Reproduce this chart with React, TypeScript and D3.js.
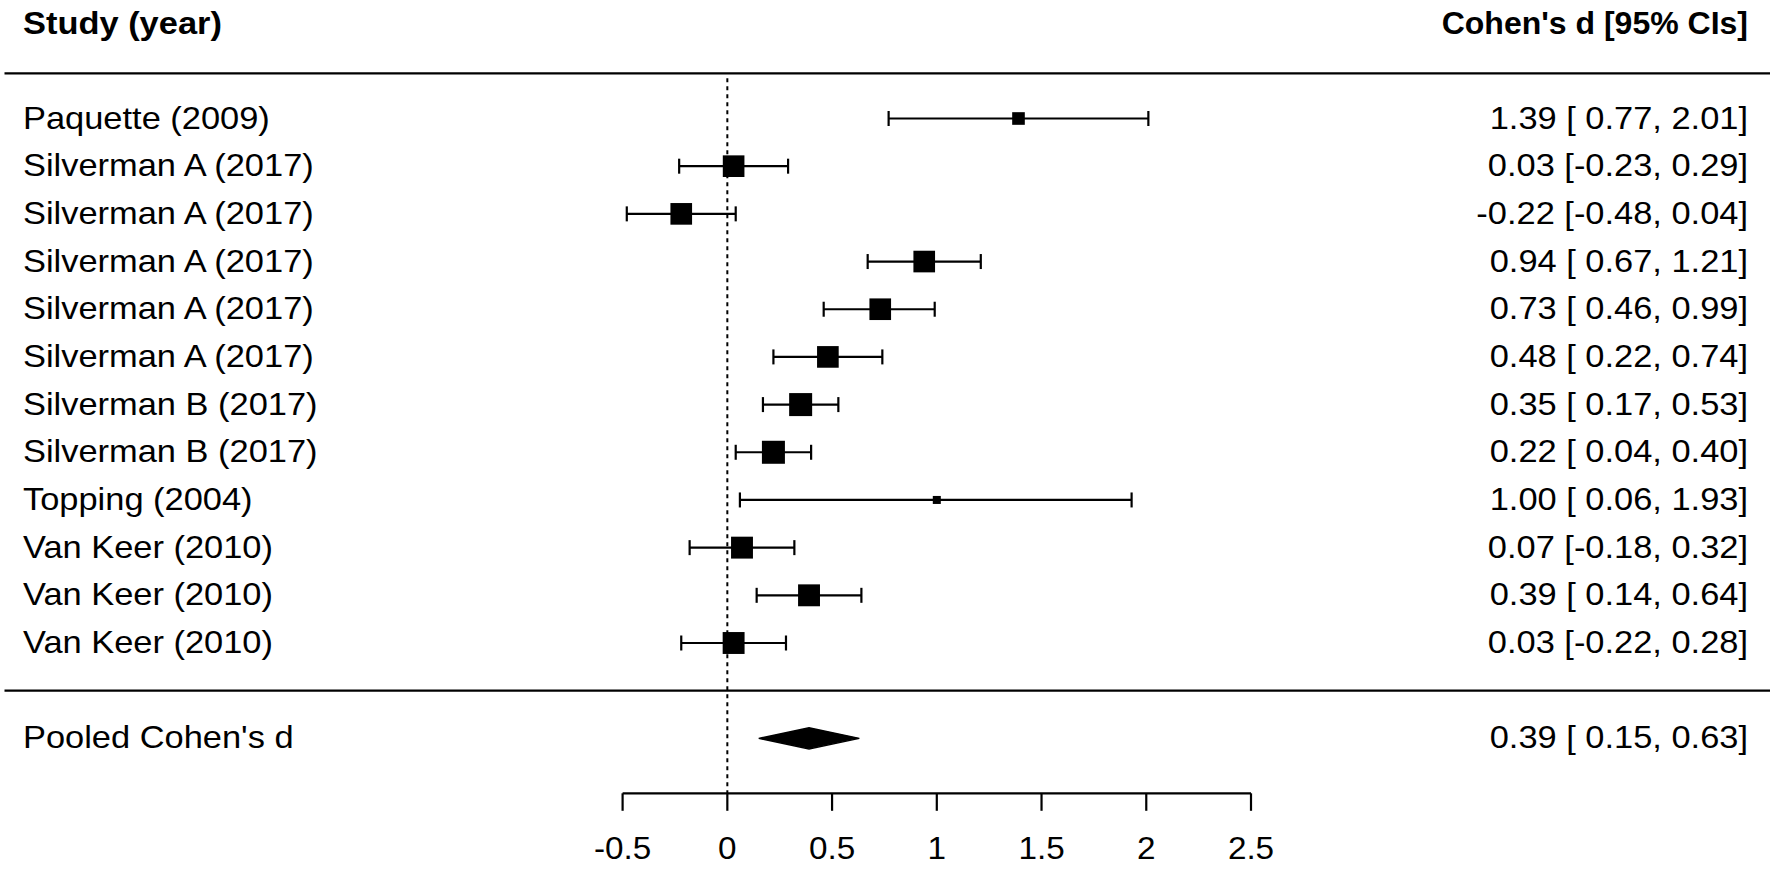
import React from "react";
import * as d3 from "d3";

const studies = [
  "Paquette (2009)",
  "Silverman A (2017)",
  "Silverman A (2017)",
  "Silverman A (2017)",
  "Silverman A (2017)",
  "Silverman A (2017)",
  "Silverman B (2017)",
  "Silverman B (2017)",
  "Topping (2004)",
  "Van Keer (2010)",
  "Van Keer (2010)",
  "Van Keer (2010)",
];
const estimates = [1.39, 0.03, -0.22, 0.94, 0.73, 0.48, 0.35, 0.22, 1.0, 0.07, 0.39, 0.03];
const lowerCI = [0.77, -0.23, -0.48, 0.67, 0.46, 0.22, 0.17, 0.04, 0.06, -0.18, 0.14, -0.22];
const upperCI = [2.01, 0.29, 0.04, 1.21, 0.99, 0.74, 0.53, 0.4, 1.93, 0.32, 0.64, 0.28];
const weights = [5.6, 8.9, 8.9, 8.9, 8.9, 8.9, 9.4, 9.4, 3.9, 9.0, 9.0, 9.0];

const pooledLabel = "Pooled Cohen's d";
const pooledEstimate = [0.39];
const pooledLower = [0.15];
const pooledUpper = [0.63];

const tickValues = [-0.5, 0, 0.5, 1, 1.5, 2, 2.5];
const tickLabels = ["-0.5", "0", "0.5", "1", "1.5", "2", "2.5"];

const headerLeft = "Study (year)";
const headerRight = "Cohen's d [95% CIs]";

const W = 1770;
const H = 872;
const FONT = "'Liberation Sans', Arial, sans-serif";
const FS = 32;
const SX = 1.076;

const f2 = (v: number) => v.toFixed(2);
const fmtLead = (v: number) => (v < 0 ? f2(v) : " " + f2(v));
const annot = (e: number, l: number, u: number) => `${f2(e)} [${fmtLead(l)}, ${f2(u)}]`;

function T({
  x,
  y,
  anchor = "start",
  bold = false,
  sx = SX,
  children,
}: {
  x: number;
  y: number;
  anchor?: string;
  bold?: boolean;
  sx?: number;
  children: React.ReactNode;
}) {
  return (
    <text
      transform={`translate(${x},${y}) scale(${sx},1)`}
      fontSize={FS}
      fontWeight={bold ? "bold" : "normal"}
      fill="#000"
      textAnchor={anchor as any}
      style={{ whiteSpace: "pre" }}
    >
      {children}
    </text>
  );
}

export default function App() {
  const x = d3.scaleLinear().domain([-0.5, 2.5]).range([622.6, 1251]);
  const y = d3.scaleLinear().domain([0, 11]).range([118.5, 643]);
  const size = d3.scaleLinear().domain([d3.min(weights)!, d3.max(weights)!]).range([8, 23]);

  const topLineY = y(-1) + 2.5;
  const sepY = y(12);
  const pooledY = y(13);
  const axisY = 793.3;
  const capH = 7.5;
  const diamondH = 10.5;
  const textDy = 10;
  const lw = 2.2;

  const pe = pooledEstimate[0];
  const pl = pooledLower[0];
  const pu = pooledUpper[0];
  const diamond = [
    [x(pl), pooledY],
    [x(pe), pooledY - diamondH],
    [x(pu), pooledY],
    [x(pe), pooledY + diamondH],
  ];

  return (
    <svg
      width={W}
      height={H}
      viewBox={`0 0 ${W} ${H}`}
      style={{ position: "absolute", left: 0, top: 0, background: "#fff" }}
      fontFamily={FONT}
    >
      <rect x={0} y={0} width={W} height={H} fill="#fff" />
      {/* headers */}
      <T x={23} y={33.5} bold>
        {headerLeft}
      </T>
      <T x={1748} y={33.5} bold anchor="end" sx={1}>
        {headerRight}
      </T>
      {/* horizontal rules */}
      <line x1={4.5} x2={W} y1={topLineY} y2={topLineY} stroke="#000" strokeWidth={lw} />
      <line x1={4.5} x2={W} y1={sepY} y2={sepY} stroke="#000" strokeWidth={lw} />
      {/* reference line at 0 */}
      <line
        x1={x(0)}
        x2={x(0)}
        y1={topLineY + 5}
        y2={axisY}
        stroke="#000"
        strokeWidth={2}
        strokeDasharray="4,4"
      />
      {/* study rows */}
      {studies.map((s, i) => {
        const yy = y(i);
        const sz = size(weights[i]);
        return (
          <g key={i}>
            <T x={23} y={yy + textDy}>
              {s}
            </T>
            <T x={1748} y={yy + textDy} anchor="end">
              {annot(estimates[i], lowerCI[i], upperCI[i])}
            </T>
            <line x1={x(lowerCI[i])} x2={x(upperCI[i])} y1={yy} y2={yy} stroke="#000" strokeWidth={lw} />
            <line x1={x(lowerCI[i])} x2={x(lowerCI[i])} y1={yy - capH} y2={yy + capH} stroke="#000" strokeWidth={lw} />
            <line x1={x(upperCI[i])} x2={x(upperCI[i])} y1={yy - capH} y2={yy + capH} stroke="#000" strokeWidth={lw} />
            <rect x={x(estimates[i]) - sz / 2} y={yy - sz / 2} width={sz} height={sz} fill="#000" />
          </g>
        );
      })}
      {/* pooled */}
      <T x={23} y={pooledY + textDy}>
        {pooledLabel}
      </T>
      <T x={1748} y={pooledY + textDy} anchor="end">
        {annot(pe, pl, pu)}
      </T>
      <polygon points={diamond.map((p) => p.join(",")).join(" ")} fill="#000" stroke="#000" strokeWidth={1.5} />
      {/* axis */}
      <line
        x1={x(tickValues[0])}
        x2={x(tickValues[tickValues.length - 1])}
        y1={axisY}
        y2={axisY}
        stroke="#000"
        strokeWidth={lw}
      />
      {tickValues.map((t, i) => (
        <g key={t}>
          <line x1={x(t)} x2={x(t)} y1={axisY} y2={axisY + 17.5} stroke="#000" strokeWidth={lw} />
          <T x={x(t)} y={859} anchor="middle" sx={1.04}>
            {tickLabels[i]}
          </T>
        </g>
      ))}
    </svg>
  );
}
